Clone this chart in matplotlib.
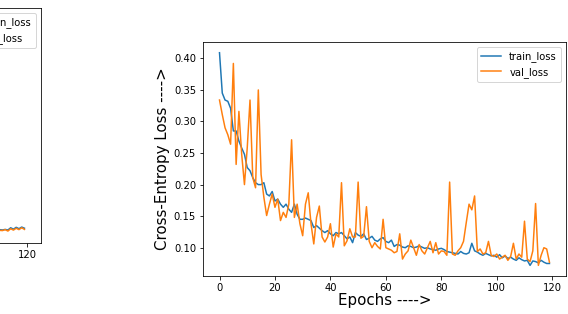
import numpy as np
import matplotlib
matplotlib.use("Agg")
import matplotlib.pyplot as plt

# right panel: loss curves (epochs 0..119)
train_loss = [
    0.409, 0.345, 0.334, 0.332, 0.321, 0.285, 0.285, 0.269, 0.258, 0.248,
    0.227, 0.222, 0.211, 0.203, 0.200, 0.200, 0.203, 0.185, 0.182, 0.189,
    0.174, 0.177, 0.169, 0.164, 0.169, 0.161, 0.156, 0.169, 0.153, 0.145,
    0.145, 0.147, 0.145, 0.143, 0.132, 0.135, 0.131, 0.127, 0.124, 0.127,
    0.122, 0.119, 0.124, 0.122, 0.124, 0.119, 0.114, 0.117, 0.108, 0.124,
    0.120, 0.118, 0.122, 0.113, 0.115, 0.118, 0.112, 0.110, 0.114, 0.116,
    0.110, 0.108, 0.112, 0.102, 0.105, 0.104, 0.101, 0.100, 0.103, 0.102,
    0.100, 0.101, 0.103, 0.101, 0.099, 0.100, 0.098, 0.097, 0.096, 0.098,
    0.099, 0.097, 0.094, 0.093, 0.092, 0.091, 0.090, 0.094, 0.091, 0.090,
    0.092, 0.107, 0.095, 0.093, 0.090, 0.088, 0.091, 0.089, 0.087, 0.088,
    0.085, 0.089, 0.084, 0.087, 0.083, 0.085, 0.082, 0.080, 0.084, 0.081,
    0.079, 0.080, 0.072, 0.079, 0.078, 0.076, 0.080, 0.077, 0.075, 0.075,
]
val_loss = [
    0.334, 0.311, 0.290, 0.279, 0.264, 0.392, 0.232, 0.316, 0.248, 0.200,
    0.258, 0.334, 0.211, 0.195, 0.350, 0.216, 0.180, 0.151, 0.169, 0.185,
    0.164, 0.177, 0.143, 0.156, 0.148, 0.169, 0.271, 0.148, 0.169, 0.138,
    0.119, 0.169, 0.187, 0.138, 0.106, 0.148, 0.166, 0.117, 0.109, 0.117,
    0.138, 0.101, 0.122, 0.117, 0.203, 0.103, 0.111, 0.130, 0.117, 0.117,
    0.204, 0.115, 0.118, 0.165, 0.110, 0.100, 0.108, 0.102, 0.098, 0.145,
    0.100, 0.098, 0.096, 0.092, 0.094, 0.122, 0.082, 0.090, 0.095, 0.112,
    0.100, 0.088, 0.105, 0.095, 0.090, 0.100, 0.110, 0.092, 0.108, 0.090,
    0.095, 0.094, 0.088, 0.204, 0.090, 0.088, 0.095, 0.100, 0.110, 0.140,
    0.169, 0.160, 0.182, 0.094, 0.098, 0.090, 0.092, 0.110, 0.088, 0.086,
    0.090, 0.082, 0.085, 0.088, 0.080, 0.086, 0.107, 0.082, 0.090, 0.085,
    0.142, 0.082, 0.078, 0.095, 0.170, 0.072, 0.088, 0.100, 0.098, 0.077,
]
epochs = np.arange(len(train_loss))

# left panel (cut off in the screenshot): only the tail is visible
left_epochs = [110, 111, 112, 113, 114, 115, 116, 117, 118, 119]
left_train = [0.057, 0.0555, 0.058, 0.0555, 0.065, 0.059, 0.067, 0.061, 0.068, 0.063]
left_val = [0.054, 0.053, 0.057, 0.051, 0.061, 0.055, 0.063, 0.057, 0.065, 0.058]

fig = plt.figure(figsize=(568 / 72, 314 / 72), dpi=72)

ax_left = fig.add_axes([-0.564, 0.226, 0.636, 0.748])
ax_left.plot(left_epochs, left_train, label="train_loss")
ax_left.plot(left_epochs, left_val, label="val_loss")
ax_left.set_xlim(-5.95, 124.95)
ax_left.set_ylim(0, 1)
ax_left.set_xticks([120])  # the other ticks fall off the canvas
ax_left.set_yticks([])
ax_left.legend(loc="upper right")

ax = fig.add_axes([0.3574, 0.121, 0.639, 0.745])
ax.plot(epochs, train_loss, label="train_loss")
ax.plot(epochs, val_loss, label="val_loss")
ax.set_xticks([0, 20, 40, 60, 80, 100, 120])
ax.set_yticks([0.10, 0.15, 0.20, 0.25, 0.30, 0.35, 0.40])
ax.set_xlabel("Epochs ---->", fontsize=15, labelpad=0)
ax.set_ylabel("Cross-Entropy Loss ---->", fontsize=15)
ax.legend(loc="upper right")

fig.savefig("out.png", dpi=72)
